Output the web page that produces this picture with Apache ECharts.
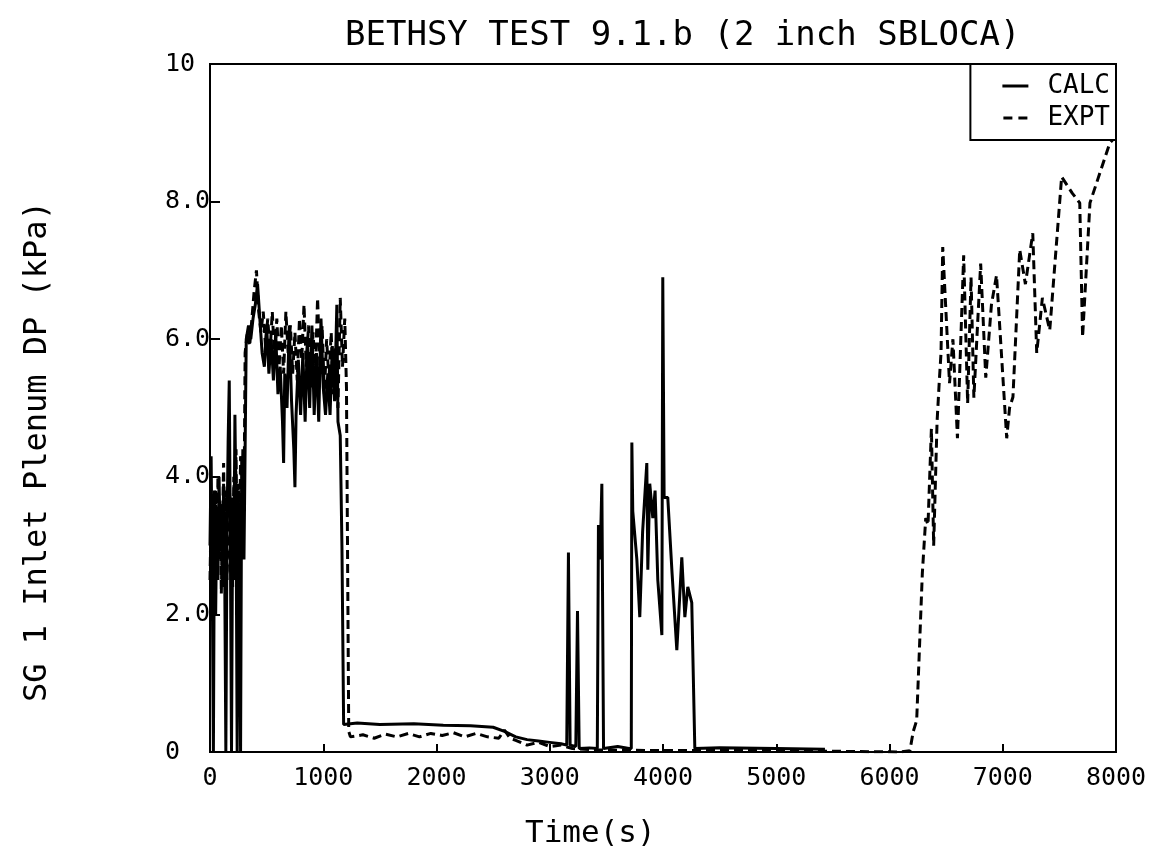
<!DOCTYPE html>
<html>
<head>
<meta charset="utf-8">
<script src="https://cdn.jsdelivr.net/npm/echarts@6/dist/echarts.min.js"></script>
<style>
html,body{margin:0;padding:0;background:#fff;}
#chart{width:1156px;height:863px;}
</style>
</head>
<body>
<div id="chart"></div>
<script>
// ---- data ----
const titleText = 'BETHSY TEST 9.1.b (2 inch SBLOCA)';
const xAxisName = 'Time(s)';
const yAxisName = 'SG 1 Inlet Plenum DP (kPa)';
const seriesNames = ['CALC', 'EXPT'];
const xTicks = [0, 1000, 2000, 3000, 4000, 5000, 6000, 7000, 8000];
const yTickLabels = ['0', '2.0', '4.0', '6.0', '8.0', '10'];

const calcT = [0,10,20,30,40,50,60,70,80,90,100,110,120,130,140,150,160,170,180,190,200,210,220,230,240,250,260,270,280,290,300,
  320,340,360,380,400,420,440,460,480,500,520,540,560,580,600,620,640,650,660,680,700,720,740,750,760,780,800,820,840,860,880,900,920,940,960,980,1000,1020,1040,1060,1080,1100,1120,1130,1150,1165,1180,
  1300,1500,1800,2060,2300,2500,2600,2700,2800,2900,3000,3100,3150,3165,3180,3230,3245,3260,3350,3420,3430,3445,3460,3475,3600,3700,3720,
  3725,3733,3769,3795,3820,3857,3866,3883,3910,3930,3954,3990,3998,4010,4042,4080,4122,4166,4193,4219,4254,4281,4500,5000,5430];
const calcV = [3.0,4.3,2.5,0,3.8,2.0,3.5,2.5,4.0,3.0,3.6,2.4,3.9,2.6,0,3.2,4.5,5.4,3.0,0,3.5,2.5,4.9,3.5,0,3.8,2.6,0,4.3,3.0,2.8,
  6.0,6.2,6.0,6.3,6.5,6.8,6.3,5.8,5.6,6.2,5.5,6.0,5.4,6.1,5.2,5.6,4.8,4.2,5.5,5.0,6.2,5.1,4.4,3.85,4.9,5.7,4.9,5.8,4.8,6.0,5.0,6.2,4.9,5.8,4.8,6.3,5.3,4.9,5.5,4.9,5.9,5.1,6.5,4.8,4.6,3.0,0.4,
  0.42,0.4,0.41,0.39,0.38,0.36,0.3,0.22,0.18,0.16,0.14,0.12,0.1,2.9,0.1,0.08,2.05,0.05,0.06,0.05,3.3,2.8,3.9,0.05,0.08,0.05,0.05,
  4.5,3.5,2.8,1.96,3.2,4.2,2.65,3.9,3.4,3.8,2.5,1.7,6.9,3.7,3.7,2.6,1.48,2.83,1.96,2.4,2.17,0.05,0.06,0.05,0.04];

const exptT = [0,10,20,30,40,50,60,70,80,90,100,110,120,130,140,150,160,170,180,190,200,210,220,230,240,250,260,270,280,290,300,
  310,330,350,370,390,410,430,450,470,490,510,530,550,570,590,610,630,650,670,690,710,730,750,770,790,810,830,850,870,890,910,930,950,970,990,1010,1030,1050,1070,1090,1110,1130,1150,1170,1190,1205,1225,1240,
  1350,1450,1550,1650,1750,1850,1950,2050,2150,2250,2350,2450,2550,2600,2650,2700,2800,2900,3000,3100,3200,3400,4000,5000,6100,6180,6210,6240,6290,6320,6340,6370,6390,6420,6440,6455,
  6470,6530,6560,6600,6655,6690,6720,6745,6805,6850,6900,6945,7035,7060,7090,7150,7200,7265,7300,7350,7415,7520,7615,7680,7705,7770,7945,8000];
const exptV = [2.5,3.5,1.9,3.0,2.2,3.8,2.6,4.0,2.8,3.6,2.3,3.2,4.2,3.0,3.8,2.5,3.5,4.3,2.6,3.7,2.4,4.0,3.1,4.4,2.8,3.9,2.9,4.3,3.2,4.4,3.5,
  5.8,6.1,5.9,6.3,6.7,7.0,6.4,6.1,6.4,5.9,6.3,5.8,6.4,5.7,6.3,5.6,6.2,5.5,6.4,5.8,6.2,5.5,6.1,5.4,6.3,5.7,6.5,5.6,6.2,5.3,6.1,5.5,6.6,5.6,6.2,5.2,6.0,5.4,6.1,5.2,5.9,5.0,6.6,5.6,6.3,5.3,0.3,0.22,
  0.25,0.2,0.26,0.22,0.27,0.22,0.27,0.24,0.28,0.22,0.27,0.22,0.2,0.32,0.2,0.17,0.1,0.14,0.08,0.1,0.05,0.03,0.02,0.02,0.0,0.02,0.3,0.46,2.6,3.4,3.3,4.7,3.0,4.8,5.4,5.8,
  7.34,5.36,6.0,4.56,7.22,5.07,6.9,5.15,7.1,5.44,6.5,6.93,4.56,5.0,5.16,7.3,6.8,7.54,5.8,6.6,6.13,8.36,8.12,7.98,6.03,7.98,8.85,8.95];

// ---- chart ----
const FONT = 'DejaVu Sans Mono';
const calcData = calcT.map((t, i) => [t, calcV[i]]);
const exptData = exptT.map((t, i) => [t, exptV[i]]);

const chart = echarts.init(document.getElementById('chart'), null, {renderer: 'canvas'});
chart.setOption({
  animation: false,
  backgroundColor: '#fff',
  title: {
    text: titleText, left: 340, top: 14,
    textStyle: {fontFamily: FONT, fontSize: 34, fontWeight: 'normal', color: '#000'}
  },
  graphic: [
    {type: 'text', left: 525, top: 818, style: {text: xAxisName, font: '31px "DejaVu Sans Mono"', fill: '#000'}},
    {type: 'text', x: 22, y: 702, rotation: Math.PI / 2,
     style: {text: yAxisName, font: '32px "DejaVu Sans Mono"', fill: '#000'}}
  ],
  legend: {
    data: [
      {name: seriesNames[0], icon: 'path://M0,0H26V3H0Z'},
      {name: seriesNames[1], icon: 'path://M0,0H9V3H0ZM15,0H24V3H15Z'}
    ],
    orient: 'vertical', right: 40, top: 64,
    backgroundColor: '#fff', borderColor: '#000', borderWidth: 2,
    padding: [9, 6, 9, 32], itemGap: 6, itemWidth: 26, itemHeight: 3,
    itemStyle: {color: '#000'},
    textStyle: {fontFamily: FONT, fontSize: 26, color: '#000', padding: [0, 0, 0, 14]}
  },
  grid: {left: 210, right: 40, top: 64, bottom: 111, show: true, borderColor: '#000', borderWidth: 2, backgroundColor: 'transparent'},
  xAxis: {
    type: 'value', min: 0, max: 8000, interval: 1000,
    axisLine: {show: true, lineStyle: {color: '#000', width: 2}},
    axisTick: {show: true, inside: true, length: 8, lineStyle: {color: '#000', width: 2}},
    splitLine: {show: false},
    axisLabel: {fontFamily: FONT, fontSize: 25, color: '#000', margin: 14,
      formatter: v => xTicks.indexOf(v) >= 0 ? String(v) : ''}
  },
  yAxis: {
    type: 'value', min: 0, max: 10, interval: 2,
    axisLine: {show: true, lineStyle: {color: '#000', width: 2}},
    axisTick: {show: true, inside: true, length: 10, lineStyle: {color: '#000', width: 2}},
    splitLine: {show: false},
    axisLabel: {fontFamily: FONT, fontSize: 25, color: '#000', margin: 45, align: 'left',
      formatter: v => yTickLabels[Math.round(v / 2)]}
  },
  series: [
    {name: seriesNames[0], type: 'line', data: calcData, symbol: 'none', z: 3,
     lineStyle: {color: '#000', width: 3, type: 'solid'}, itemStyle: {color: '#000'}},
    {name: seriesNames[1], type: 'line', data: exptData, symbol: 'none', z: 2,
     lineStyle: {color: '#000', width: 3, type: [9, 5]}, itemStyle: {color: '#000'}}
  ]
});
</script>
</body>
</html>
